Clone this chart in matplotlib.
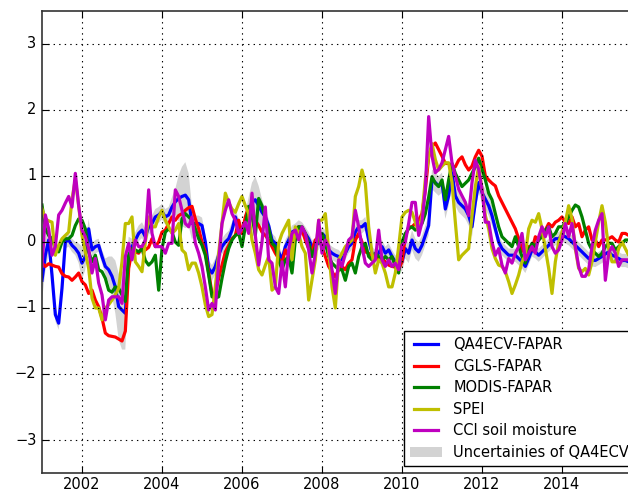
import matplotlib
matplotlib.use("Agg")
import matplotlib.pyplot as plt
import numpy as np

# Monthly standardized anomalies, Jan 2001 - Dec 2015
qa4ecv_fapar = [
    -0.58, -0.2, 0.03, -0.5, -1.1, -1.23, -0.7, 0.0, 0.03, -0.05,
    -0.1, -0.17, -0.32, -0.22, 0.2, -0.12, -0.07, -0.05, -0.22, -0.37,
    -0.42, -0.52, -0.68, -0.98, -1.03, -1.08, -0.22, -0.07, 0.03, 0.13,
    0.18, 0.08, 0.23, 0.28, 0.38, 0.41, 0.46, 0.38, 0.41, 0.53,
    0.61, 0.66, 0.69, 0.71, 0.64, 0.28, 0.28, 0.28, 0.25, 0.0,
    -0.4, -0.47, -0.37, -0.2, -0.07, 0.0, 0.05, 0.18, 0.38, 0.23,
    0.13, 0.3, 0.48, 0.6, 0.64, 0.55, 0.45, 0.38, 0.25, 0.03,
    -0.02, -0.15, -0.27, -0.07, 0.03, 0.15, 0.18, 0.23, 0.2, 0.13,
    0.05, -0.07, -0.05, -0.02, 0.13, 0.08, -0.12, -0.17, -0.2, -0.22,
    -0.27, -0.17, -0.07, -0.02, 0.15, 0.23, 0.23, 0.28, 0.03, -0.17,
    -0.22, -0.17, -0.07, -0.17, -0.12, -0.22, -0.3, -0.32, -0.3, -0.1,
    -0.17, 0.03, -0.1, -0.15, -0.05, 0.1, 0.25, 0.95, 0.9, 0.85,
    0.9, 0.5, 0.7, 1.05, 0.7, 0.6, 0.55, 0.5, 0.4, 0.23,
    0.6, 0.9, 0.75, 0.65, 0.55, 0.4, 0.2, 0.0, -0.1, -0.15,
    -0.2, -0.2, -0.2, -0.25, -0.3, -0.37, -0.25, -0.12, -0.15, -0.2,
    -0.15, -0.1, -0.05, 0.0, 0.05, 0.05, 0.1, 0.08, 0.05, 0.0,
    -0.05, -0.1, -0.15, -0.2, -0.25, -0.27, -0.28, -0.25, -0.22, -0.18,
    -0.15, -0.2, -0.22, -0.25, -0.28, -0.28, -0.3, -0.25, -0.2, -0.2,
]

cgls_fapar = [
    -0.32, -0.37, -0.33, -0.35, -0.37, -0.38, -0.48, -0.52, -0.53, -0.58,
    -0.53, -0.47, -0.6, -0.65, -0.78, -0.73, -0.88, -0.98, -1.15, -1.38,
    -1.42, -1.43, -1.44, -1.47, -1.5, -1.35, -0.4, -0.12, -0.15, -0.17,
    -0.08, -0.12, -0.08, 0.05, -0.07, 0.0, 0.15, 0.18, 0.28, 0.38,
    0.33, 0.4, 0.43, 0.48, 0.52, 0.54, 0.35, 0.2, 0.0, -0.15,
    -0.47, -0.78, -0.78, -0.55, -0.35, -0.15, -0.05, 0.05, 0.1, 0.33,
    0.13, 0.38, 0.53, 0.48, 0.33, 0.25, 0.15, 0.1, 0.03, -0.07,
    -0.17, -0.25, -0.32, -0.12, -0.22, 0.03, 0.18, 0.23, 0.18, 0.03,
    -0.1, -0.12, 0.03, 0.08, -0.07, -0.22, -0.37, -0.45, -0.53, -0.42,
    -0.37, -0.42, -0.32, -0.27, 0.03, 0.13, 0.0, -0.15, -0.17, -0.27,
    -0.22, -0.27, -0.25, -0.3, -0.35, -0.37, -0.38, -0.42, -0.3, 0.08,
    0.23, 0.23, 0.28, 0.33, 0.43, 0.79, 1.29, 1.45, 1.5, 1.4,
    1.3, 1.19, 1.19, 1.14, 1.14, 1.24, 1.29, 1.17, 1.09, 1.15,
    1.29, 1.39, 1.3, 1.0, 0.94, 0.89, 0.85, 0.7, 0.6, 0.5,
    0.4, 0.3, 0.2, 0.05, -0.12, -0.17, -0.07, -0.12, 0.08, 0.03,
    0.13, 0.18, 0.28, 0.23, 0.3, 0.33, 0.38, 0.3, 0.28, 0.38,
    0.23, 0.28, 0.08, 0.18, 0.23, 0.03, 0.03, -0.07, 0.03, 0.03,
    0.05, 0.08, 0.03, 0.0, 0.13, 0.13, 0.1, 0.1, 0.1, 0.1,
]

modis_fapar = [
    0.56, 0.2, 0.1, 0.05, -0.1, -0.15, 0.0, 0.05, 0.05, 0.1,
    0.25, 0.35, 0.33, 0.2, -0.15, -0.3, -0.2, -0.42, -0.45, -0.55,
    -0.73, -0.76, -0.68, -0.7, -0.8, -0.9, -0.2, -0.1, -0.12, -0.15,
    -0.1, -0.28, -0.35, -0.3, -0.2, -0.73, -0.1, 0.15, 0.2, 0.15,
    0.0, -0.05, 0.35, 0.43, 0.38, 0.33, 0.2, 0.05, -0.05, -0.2,
    -0.5, -0.83, -0.85, -0.83, -0.55, -0.3, -0.1, 0.03, 0.1, 0.13,
    -0.07, 0.23, 0.54, 0.4, 0.1, 0.66, 0.55, 0.35, 0.2, -0.02,
    -0.07, -0.27, -0.42, -0.27, -0.22, -0.47, 0.03, 0.23, 0.23, 0.13,
    -0.02, -0.22, -0.07, 0.08, 0.13, -0.02, -0.22, -0.32, -0.37, -0.42,
    -0.42, -0.58, -0.37, -0.32, -0.47, -0.22, -0.07, -0.02, -0.22, -0.27,
    -0.17, -0.22, -0.27, -0.22, -0.27, -0.22, -0.37, -0.47, 0.0, 0.13,
    0.2, 0.23, 0.18, 0.23, 0.28, 0.43, 0.68, 0.99, 0.89, 0.84,
    0.94, 0.64, 0.94, 1.19, 1.04, 0.94, 0.84, 0.89, 0.94, 1.04,
    1.14, 1.27, 1.1, 0.94, 0.74, 0.64, 0.43, 0.23, 0.08, 0.03,
    -0.02, -0.07, 0.08, -0.07, -0.22, -0.32, -0.12, -0.02, -0.07, 0.03,
    0.08, 0.18, 0.23, 0.08, 0.13, 0.23, 0.23, 0.28, 0.38, 0.48,
    0.56, 0.53, 0.38, 0.18, -0.02, -0.12, -0.17, -0.22, -0.17, -0.07,
    -0.02, -0.02, -0.12, -0.07, -0.02, 0.03, 0.03, 0.05, 0.05, 0.05,
]

spei = [
    0.5, 0.35, 0.32, 0.3, -0.2, -0.05, 0.05, 0.1, 0.15, 0.65,
    0.95, 0.55, 0.1, -0.15, -0.4, -0.85, -1.0, -1.0, -1.18, -1.0,
    -0.95, -0.88, -0.8, -0.7, -0.3, 0.28, 0.28, 0.38, -0.3, -0.37,
    -0.45, 0.0, 0.38, 0.23, 0.23, 0.38, 0.48, 0.33, 0.23, 0.13,
    0.18, 0.28, -0.12, -0.17, -0.42, -0.32, -0.32, -0.47, -0.68, -0.95,
    -1.13, -1.1, -0.68, -0.17, 0.28, 0.74, 0.6, 0.5, 0.45, 0.58,
    0.69, 0.55, 0.43, 0.03, -0.17, -0.42, -0.5, -0.35, -0.22, -0.73,
    -0.68, -0.02, 0.13, 0.23, 0.33, -0.27, 0.23, 0.13, -0.07, -0.17,
    -0.88, -0.58, -0.27, 0.33, 0.33, 0.43, -0.12, -0.68, -1.0, -0.27,
    -0.17, -0.07, -0.02, 0.03, 0.69, 0.84, 1.09, 0.89, 0.23, -0.17,
    -0.47, -0.27, -0.32, -0.47, -0.68, -0.68, -0.47, -0.07, 0.38, 0.45,
    0.48, 0.45, 0.3, 0.15, 0.4, 0.95, 1.3, 1.49, 1.25, 1.09,
    1.15, 1.2, 1.2, 0.9, 0.3, -0.27, -0.2, -0.15, -0.1, 0.4,
    0.84, 1.15, 0.8, 0.4, 0.2, -0.1, -0.25, -0.35, -0.37, -0.45,
    -0.6, -0.78, -0.65, -0.5, -0.3, -0.2, 0.2, 0.33, 0.3, 0.43,
    0.2, -0.1, -0.4, -0.78, -0.3, 0.0, 0.15, 0.3, 0.55, 0.35,
    -0.1, -0.4, -0.45, -0.4, -0.5, -0.3, 0.0, 0.3, 0.55, 0.3,
    -0.1, -0.3, -0.3, -0.1, 0.0, -0.1, -0.2, -0.1, 0.0, 0.0,
]

cci_soil_moisture = [
    -0.37, 0.41, 0.2, -0.2, -0.07, 0.41, 0.48, 0.59, 0.69, 0.53,
    1.04, 0.55, 0.18, 0.08, -0.1, -0.47, -0.25, -0.62, -0.8, -1.18,
    -0.88, -0.83, -0.83, -0.83, -0.93, -0.22, -0.02, -0.27, 0.03, -0.07,
    -0.07, 0.03, 0.79, 0.13, -0.07, -0.07, -0.07, -0.17, -0.02, -0.02,
    0.79, 0.69, 0.48, 0.28, 0.23, 0.38, -0.02, -0.17, -0.37, -0.68,
    -1.03, -0.93, -1.03, -0.3, 0.28, 0.48, 0.64, 0.43, 0.33, 0.13,
    0.2, 0.3, 0.13, 0.74, 0.1, -0.35, 0.0, 0.53, -0.27, -0.32,
    -0.68, -0.78, -0.3, -0.68, -0.12, 0.13, 0.18, 0.03, 0.23, 0.13,
    -0.12, -0.47, -0.17, 0.33, -0.17, 0.03, -0.07, -0.42, -0.78, -0.27,
    -0.37, -0.17, 0.03, 0.08, 0.48, 0.23, -0.07, -0.32, -0.37, -0.32,
    -0.27, 0.18, -0.27, -0.37, -0.27, -0.37, -0.32, -0.42, -0.05, 0.0,
    0.28, 0.6, 0.6, 0.1, 0.3, 0.8, 1.9, 1.3, 1.05, 1.1,
    1.2, 1.4, 1.6, 1.2, 1.0, 0.8, 0.7, 0.6, 0.4, 0.9,
    1.24, 1.1, 0.8, 0.3, 0.3, 0.0, -0.2, -0.1, -0.35, -0.47,
    -0.25, -0.32, -0.17, -0.07, 0.13, -0.27, -0.17, -0.07, -0.17, 0.08,
    0.23, 0.08, 0.23, -0.07, -0.17, -0.12, 0.03, 0.28, 0.08, 0.28,
    -0.07, -0.37, -0.52, -0.52, -0.42, -0.07, 0.18, 0.33, 0.43, -0.58,
    -0.17, -0.07, -0.17, -0.37, -0.27, -0.27, -0.27, -0.3, -0.3, -0.3,
]

# Half-width of the QA4ECV uncertainty envelope
qa4ecv_unc = [
    0.3, 0.25, 0.2, 0.15, 0.1, 0.1, 0.1, 0.1, 0.1, 0.1,
    0.1, 0.15, 0.25, 0.2, 0.15, 0.1, 0.1, 0.1, 0.1, 0.12,
    0.2, 0.3, 0.4, 0.5, 0.6, 0.55, 0.3, 0.12, 0.12, 0.12,
    0.12, 0.12, 0.12, 0.12, 0.12, 0.12, 0.12, 0.12, 0.12, 0.15,
    0.2, 0.35, 0.45, 0.5, 0.4, 0.25, 0.12, 0.12, 0.12, 0.12,
    0.12, 0.12, 0.12, 0.12, 0.12, 0.12, 0.12, 0.12, 0.12, 0.12,
    0.12, 0.15, 0.2, 0.3, 0.35, 0.3, 0.2, 0.1, 0.1, 0.1,
    0.1, 0.1, 0.1, 0.1, 0.1, 0.1, 0.1, 0.1, 0.1, 0.1,
    0.1, 0.1, 0.1, 0.1, 0.1, 0.1, 0.1, 0.1, 0.1, 0.1,
    0.1, 0.1, 0.1, 0.1, 0.1, 0.1, 0.1, 0.1, 0.1, 0.1,
    0.1, 0.1, 0.1, 0.1, 0.1, 0.1, 0.1, 0.1, 0.15, 0.15,
    0.15, 0.15, 0.15, 0.15, 0.15, 0.15, 0.15, 0.15, 0.15, 0.15,
    0.15, 0.15, 0.15, 0.15, 0.15, 0.15, 0.15, 0.15, 0.15, 0.15,
    0.15, 0.15, 0.15, 0.15, 0.15, 0.15, 0.1, 0.1, 0.1, 0.1,
    0.1, 0.1, 0.1, 0.1, 0.1, 0.1, 0.1, 0.1, 0.1, 0.1,
    0.1, 0.1, 0.1, 0.1, 0.1, 0.1, 0.1, 0.1, 0.1, 0.1,
    0.1, 0.1, 0.1, 0.1, 0.1, 0.1, 0.1, 0.1, 0.1, 0.1,
    0.1, 0.1, 0.1, 0.1, 0.1, 0.1, 0.1, 0.1, 0.1, 0.1,
]

series_labels = ["QA4ECV-FAPAR", "CGLS-FAPAR", "MODIS-FAPAR", "SPEI",
                 "CCI soil moisture"]
band_label = "Uncertainies of QA4ECV"
year_ticks = [2002, 2004, 2006, 2008, 2010, 2012, 2014]
value_ticks = [-3, -2, -1, 0, 1, 2, 3]

plt.style.use("classic")
plt.rcParams["font.family"] = "DejaVu Sans"
plt.rcParams["font.size"] = 10.5

start_year = 2001
t = start_year + np.arange(len(qa4ecv_fapar)) / 12.0
qa = np.array(qa4ecv_fapar)
unc = np.array(qa4ecv_unc)

fig = plt.figure(figsize=(6.28, 4.94), dpi=100)
fig.patch.set_facecolor("white")
ax = fig.add_axes([42 / 628, 21 / 494, 600 / 628, 462 / 494])

band = ax.fill_between(t, qa - unc, qa + unc, facecolor="#d3d3d3",
                       edgecolor="none", zorder=1)

colors = ["b", "r", "g", "y", "m"]
data = [qa4ecv_fapar, cgls_fapar, modis_fapar, spei, cci_soil_moisture]
handles = []
for values, color, label in zip(data, colors, series_labels):
    (ln,) = ax.plot(t, values, color=color, lw=2.3, label=label, zorder=2)
    handles.append(ln)

ax.set_xlim(2001, 2016)
ax.set_ylim(-3.5, 3.5)
ax.set_xticks(year_ticks)
ax.set_xticklabels([str(y) for y in year_ticks])
ax.set_yticks(value_ticks)
ax.set_yticklabels(["\u2212%d" % abs(v) if v < 0 else "%d" % v for v in value_ticks])
ax.grid(True, color="k", linestyle=":", linewidth=0.8)
ax.tick_params(direction="in", length=5, width=0.8)
ax.tick_params(axis="x", pad=3)
ax.tick_params(axis="y", pad=4)
for sp in ax.spines.values():
    sp.set_color("#333333")
    sp.set_linewidth(1.2)

leg = ax.legend(handles + [band], series_labels + [band_label],
                loc="lower right", fontsize=10.5, fancybox=False,
                handlelength=2.2, handletextpad=0.75, labelspacing=0.45,
                borderpad=0.45, borderaxespad=0.45, frameon=True)
leg.get_frame().set_edgecolor("k")
leg.get_frame().set_linewidth(1.0)

fig.savefig("out.png", dpi=100, facecolor="white")
